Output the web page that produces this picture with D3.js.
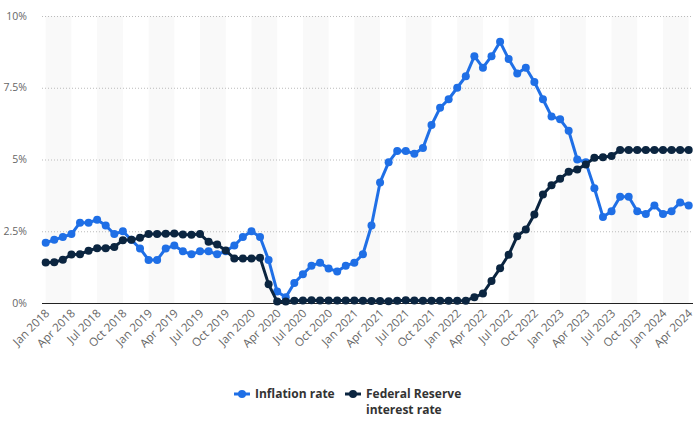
<!DOCTYPE html>
<html>
<head>
<meta charset="utf-8">
<script src="https://cdn.jsdelivr.net/npm/d3@7"></script>
<style>
  html, body { margin: 0; padding: 0; background: #fff; }
  svg { display: block; font-family: "Open Sans", "DejaVu Sans", sans-serif; }
</style>
</head>
<body>
<svg id="chart" width="700" height="422"></svg>
<script>
const monthNames = ["Jan","Feb","Mar","Apr","May","Jun","Jul","Aug","Sep","Oct","Nov","Dec"];
const years = [2018, 2019, 2020, 2021, 2022, 2023, 2024];
const monthsInLastYear = 4;

const inflation = [
  2.1, 2.2, 2.3, 2.4, 2.8, 2.8, 2.9, 2.7, 2.4, 2.5, 2.2, 1.9,
  1.5, 1.5, 1.9, 2.0, 1.8, 1.7, 1.8, 1.8, 1.7, 1.8, 2.0, 2.3,
  2.5, 2.3, 1.5, 0.4, 0.2, 0.7, 1.0, 1.3, 1.4, 1.2, 1.1, 1.3,
  1.4, 1.7, 2.7, 4.2, 4.9, 5.3, 5.3, 5.2, 5.4, 6.2, 6.8, 7.1,
  7.5, 7.9, 8.6, 8.2, 8.6, 9.1, 8.5, 8.0, 8.2, 7.7, 7.1, 6.5,
  6.4, 6.0, 5.0, 4.9, 4.0, 3.0, 3.2, 3.7, 3.7, 3.2, 3.1, 3.4,
  3.1, 3.2, 3.5, 3.4
];

const fedRate = [
  1.41, 1.42, 1.51, 1.69, 1.70, 1.82, 1.91, 1.91, 1.95, 2.19, 2.20, 2.27,
  2.40, 2.40, 2.41, 2.42, 2.39, 2.38, 2.40, 2.13, 2.04, 1.83, 1.55, 1.55,
  1.55, 1.58, 0.65, 0.05, 0.05, 0.08, 0.09, 0.10, 0.09, 0.09, 0.09, 0.09,
  0.09, 0.08, 0.07, 0.07, 0.06, 0.08, 0.10, 0.09, 0.08, 0.08, 0.08, 0.08,
  0.08, 0.08, 0.20, 0.33, 0.77, 1.21, 1.68, 2.33, 2.56, 3.08, 3.78, 4.10,
  4.33, 4.57, 4.65, 4.83, 5.06, 5.08, 5.12, 5.33, 5.33, 5.33, 5.33, 5.33,
  5.33, 5.33, 5.33, 5.33
];

const tickLabels = [
  "Jan 2018","Apr 2018","Jul 2018","Oct 2018","Jan 2019","Apr 2019","Jul 2019","Oct 2019",
  "Jan 2020","Apr 2020","Jul 2020","Oct 2020","Jan 2021","Apr 2021","Jul 2021","Oct 2021",
  "Jan 2022","Apr 2022","Jul 2022","Oct 2022","Jan 2023","Apr 2023","Jul 2023","Oct 2023",
  "Jan 2024","Apr 2024"
];
const yTicks = [0, 2.5, 5, 7.5, 10];
const yTickLabels = ["0%", "2.5%", "5%", "7.5%", "10%"];
const legendLines = [["Inflation rate"], ["Federal Reserve", "interest rate"]];

// categories
const categories = [];
years.forEach((yr, yi) => {
  const n = yi === years.length - 1 ? monthsInLastYear : 12;
  for (let m = 0; m < n; m++) categories.push(monthNames[m] + " " + yr);
});

const colors = { inflation: "#1f6fe6", fed: "#0b2540" };

const svg = d3.select("#chart");
const plotLeft = 42, plotRight = 693, plotTop = 16, plotBottom = 303;

const x = d3.scalePoint().domain(categories).range([45.7, 688.7]);
const y = d3.scaleLinear().domain([0, 10]).range([plotBottom, plotTop]);

// alternating bands (3-month wide)
const bandStarts = categories.filter((c, i) => i % 6 === 0);
svg.append("g").selectAll("rect").data(bandStarts).join("rect")
  .attr("x", d => x(d))
  .attr("width", d => {
    const i = categories.indexOf(d);
    return x(categories[Math.min(i + 3, categories.length - 1)]) - x(d);
  })
  .attr("y", plotTop)
  .attr("height", plotBottom - plotTop)
  .attr("fill", "#f9f9f9");

// grid lines
svg.append("g").selectAll("line").data(yTicks.filter(v => v > 0)).join("line")
  .attr("x1", plotLeft).attr("x2", plotRight)
  .attr("y1", d => y(d) + 0.5).attr("y2", d => y(d) + 0.5)
  .attr("stroke", "#bbb").attr("stroke-width", 1)
  .attr("stroke-dasharray", "1,2");

// y axis labels
svg.append("g").selectAll("text").data(yTicks).join("text")
  .attr("x", 27).attr("y", d => y(d))
  .attr("dy", "0.35em")
  .attr("text-anchor", "end")
  .attr("font-size", 10.5)
  .attr("fill", "#666")
  .text((d, i) => yTickLabels[i]);

// x axis
const xAxis = d3.axisBottom(x)
  .tickValues(tickLabels)
  .tickSize(0)
  .tickPadding(0);
const xg = svg.append("g").attr("transform", `translate(0,${plotBottom})`).call(xAxis);
xg.select(".domain").remove();
xg.selectAll("text")
  .attr("font-size", 11.5)
  .attr("fill", "#666")
  .attr("font-family", "\"Open Sans\", sans-serif")
  .attr("text-anchor", "end")
  .attr("dy", 0)
  .attr("y", 0)
  .attr("transform", "translate(4,11) rotate(-45)");

// zero line
svg.append("line")
  .attr("x1", plotLeft).attr("x2", plotRight)
  .attr("y1", plotBottom + 0.5).attr("y2", plotBottom + 0.5)
  .attr("stroke", "#222").attr("stroke-width", 1);

function drawSeries(values, color) {
  const data = categories.map((c, i) => ({ c, v: values[i] }));
  const line = d3.line().x(d => x(d.c)).y(d => y(d.v));
  const g = svg.append("g");
  g.append("path").datum(data)
    .attr("d", line)
    .attr("fill", "none")
    .attr("stroke", color)
    .attr("stroke-width", 3)
    .attr("stroke-linejoin", "round");
  g.selectAll("circle").data(data).join("circle")
    .attr("cx", d => x(d.c)).attr("cy", d => y(d.v))
    .attr("r", 4)
    .attr("fill", color);
}
drawSeries(inflation, colors.inflation);
drawSeries(fedRate, colors.fed);

// legend
const legend = svg.append("g").attr("font-size", 12).attr("font-weight", "bold").attr("fill", "#333");
function legendItem(x0, color, lines) {
  legend.append("line").attr("x1", x0).attr("x2", x0 + 16)
    .attr("y1", 394).attr("y2", 394)
    .attr("stroke", color).attr("stroke-width", 3);
  legend.append("circle").attr("cx", x0 + 8).attr("cy", 394).attr("r", 4).attr("fill", color);
  lines.forEach((l, i) => {
    legend.append("text").attr("x", x0 + 21).attr("y", 397.5 + i * 16.5).text(l);
  });
}
legendItem(234, colors.inflation, legendLines[0]);
legendItem(345, colors.fed, legendLines[1]);
</script>
</body>
</html>
